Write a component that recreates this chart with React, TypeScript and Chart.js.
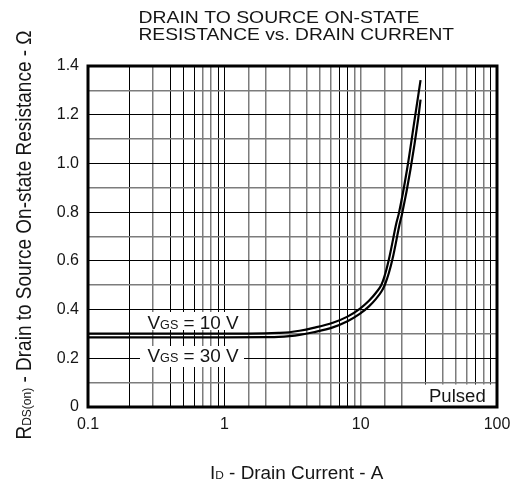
import React, { useEffect, useRef } from 'react';
import { Chart, registerables } from 'chart.js';

Chart.register(...registerables);

// ---- data ----
const current10V = [0.1, 1, 2, 2.5, 3, 3.56, 4.5, 6.25, 8, 9.84, 11.5, 13, 14.2, 15.2, 16.3, 18.3, 19.1, 21.9, 24.9, 27.5];
const rds10V = [0.301, 0.301, 0.302, 0.304, 0.307, 0.313, 0.325, 0.346, 0.371, 0.403, 0.436, 0.47, 0.502, 0.55, 0.619, 0.756, 0.797, 0.976, 1.182, 1.342];
const current30V = [0.1, 1, 2, 2.5, 3, 3.56, 4.5, 6.25, 8, 9.84, 11.5, 13, 14.2, 15.05, 16.1, 17.3, 19.4, 20.2, 23.2, 26.4, 27.5];
const rds30V = [0.286, 0.286, 0.287, 0.288, 0.291, 0.296, 0.307, 0.327, 0.352, 0.382, 0.413, 0.445, 0.474, 0.502, 0.55, 0.619, 0.756, 0.797, 0.976, 1.182, 1.262];

const xTickLabels = ['0.1', '1', '10', '100'];
const yTickLabels = ['0', '0.2', '0.4', '0.6', '0.8', '1.0', '1.2', '1.4'];
const xDarkGrid = [0.2, 0.4, 0.5, 0.6, 0.9, 1, 7, 8, 30, 70, 90];

const titleLines = ['DRAIN TO SOURCE ON-STATE', 'RESISTANCE vs. DRAIN CURRENT'];
const seriesLabels = ['10 V', '30 V'];

const FONT = '"Liberation Sans", Arial, Helvetica, sans-serif';
const TEXT = '#151515';

type Part = { t: string; s: number };

function drawRich(ctx: CanvasRenderingContext2D, parts: Part[], x: number, y: number, sx: number, sy: number, align: 'left' | 'center') {
  let w = 0;
  for (const p of parts) {
    ctx.font = `${p.s}px ${FONT}`;
    w += ctx.measureText(p.t).width;
  }
  ctx.save();
  ctx.translate(x, y);
  ctx.scale(sx, sy);
  ctx.fillStyle = TEXT;
  ctx.textBaseline = 'alphabetic';
  ctx.textAlign = 'left';
  let cx = align === 'center' ? -w / 2 : 0;
  for (const p of parts) {
    ctx.font = `${p.s}px ${FONT}`;
    ctx.fillText(p.t, cx, 0);
    cx += ctx.measureText(p.t).width;
  }
  ctx.restore();
}

const near = (a: number, b: number) => Math.abs(a - b) < 1e-6 * Math.max(1, Math.abs(b));

const decorPlugin = {
  id: 'decor',
  afterDatasetsDraw(chart: any) {
    const ctx: CanvasRenderingContext2D = chart.ctx;
    const { left, right, top, bottom } = chart.chartArea;
    ctx.save();
    // white boxes behind in-plot labels
    ctx.fillStyle = '#fff';
    ctx.fillRect(143, 312, 101, 18);
    ctx.fillRect(140, 346, 104, 21);
    ctx.fillRect(423, 384.5, right - 423, bottom - 384.5);
    // in-plot labels
    drawRich(ctx, [{ t: 'V', s: 18 }, { t: 'GS', s: 12 }, { t: ' = ' + seriesLabels[0], s: 18 }], 147.5, 328.5, 1.05, 1, 'left');
    drawRich(ctx, [{ t: 'V', s: 18 }, { t: 'GS', s: 12 }, { t: ' = ' + seriesLabels[1], s: 18 }], 147.5, 362, 1.05, 1, 'left');
    drawRich(ctx, [{ t: 'Pulsed', s: 18 }], 429, 401.5, 1.03, 1, 'left');
    // frame
    ctx.strokeStyle = '#000';
    ctx.lineWidth = 3;
    ctx.strokeRect(left, top, right - left, bottom - top);
    // title
    drawRich(ctx, [{ t: titleLines[0], s: 17 }], 138.5, 22.5, 1.14, 1, 'left');
    drawRich(ctx, [{ t: titleLines[1], s: 17 }], 138.5, 40, 1.13, 1, 'left');
    // x axis title
    drawRich(ctx, [{ t: 'I', s: 17.5 }, { t: 'D', s: 11 }, { t: ' - Drain Current - A', s: 17.5 }], 210, 478.5, 1.08, 1, 'left');
    // y axis title
    ctx.save();
    ctx.translate(31, 235);
    ctx.rotate(-Math.PI / 2);
    drawRich(ctx, [{ t: 'R', s: 19 }, { t: 'DS(on)', s: 12 }, { t: ' - Drain to Source On-state Resistance - Ω', s: 19 }], 0, 0, 1, 1.12, 'center');
    ctx.restore();
    ctx.restore();
  },
};

export default function App() {
  const ref = useRef<HTMLCanvasElement | null>(null);

  useEffect(() => {
    if (!ref.current) return;
    const chart = new Chart(ref.current, {
      type: 'line',
      data: {
        datasets: [
          {
            label: 'VGS = 10 V',
            data: current10V.map((x, i) => ({ x, y: rds10V[i] })),
            borderColor: '#000',
            borderWidth: 2.2,
            pointRadius: 0,
            cubicInterpolationMode: 'monotone',
            borderJoinStyle: 'round',
          },
          {
            label: 'VGS = 30 V',
            data: current30V.map((x, i) => ({ x, y: rds30V[i] })),
            borderColor: '#000',
            borderWidth: 2.2,
            pointRadius: 0,
            cubicInterpolationMode: 'monotone',
            borderJoinStyle: 'round',
          },
        ],
      },
      options: {
        responsive: false,
        animation: false,
        devicePixelRatio: 1,
        events: [],
        layout: { padding: { left: 0, right: 26, top: 66, bottom: 0 } },
        plugins: {
          legend: { display: false },
          title: { display: false },
          tooltip: { enabled: false },
        },
        scales: {
          x: {
            type: 'logarithmic',
            min: 0.1,
            max: 100,
            border: { display: false },
            grid: {
              drawTicks: false,
              color: (c: any) => (xDarkGrid.some((d) => near(c.tick?.value, d)) ? '#000' : '#7c7c7c'),
              lineWidth: (c: any) => (xDarkGrid.some((d) => near(c.tick?.value, d)) ? 1 : 1.5),
            },
            ticks: {
              autoSkip: false,
              maxRotation: 0,
              padding: 8,
              color: TEXT,
              font: { size: 16, family: FONT },
              callback: (v: any) => {
                const n = Number(v);
                const found = xTickLabels.find((l) => near(Number(l), n));
                return found ?? '';
              },
            },
            afterFit: (s: any) => {
              s.height = 79;
            },
          },
          y: {
            type: 'linear',
            min: 0,
            max: 1.4,
            border: { display: false },
            grid: {
              drawTicks: false,
              color: (c: any) => (Math.round((c.tick?.value ?? 0) * 10) % 2 === 0 ? '#000' : '#7c7c7c'),
              lineWidth: (c: any) => (Math.round((c.tick?.value ?? 0) * 10) % 2 === 0 ? 1 : 1.5),
            },
            ticks: {
              stepSize: 0.1,
              padding: 9,
              color: TEXT,
              font: { size: 16, family: FONT },
              callback: (v: any) => {
                const k = Math.round(Number(v) * 10);
                return k % 2 === 0 ? yTickLabels[k / 2] ?? '' : '';
              },
            },
            afterFit: (s: any) => {
              s.width = 88;
            },
          },
        },
      },
      plugins: [decorPlugin],
    } as any);
    return () => chart.destroy();
  }, []);

  return (
    <div style={{ position: 'absolute', left: 0, top: 0, width: 523, height: 486, background: '#fff' }}>
      <canvas ref={ref} width={523} height={486} />
    </div>
  );
}
